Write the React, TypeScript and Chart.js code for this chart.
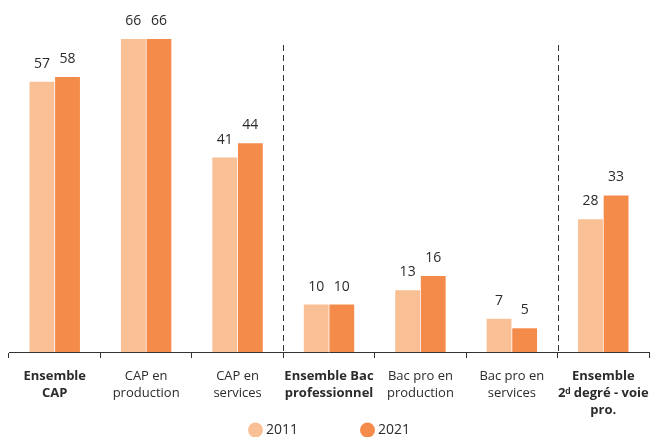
import React, { useEffect, useRef } from "react";
import { Chart, registerables } from "chart.js";

Chart.register(...registerables);

const categories: (string | string[])[] = [
  ["Ensemble", "CAP"],
  ["CAP en", "production"],
  ["CAP en", "services"],
  ["Ensemble Bac", "professionnel"],
  ["Bac pro en", "production"],
  ["Bac pro en", "services"],
  ["Ensemble", "2ᵈ degré - voie", "pro."],
];
const boldIndexes = [0, 3, 6];
const values2011 = [57, 66, 41, 10, 13, 7, 28];
const values2021 = [58, 66, 44, 10, 16, 5, 33];
const seriesNames = ["2011", "2021"];
const separatorsAfter = [2, 5];

const COLOR_2011 = "#F9BF95";
const COLOR_2021 = "#F58B4B";
const TEXT = "#2b2b2b";
const FONT = "'Open Sans', sans-serif";

const labelsPlugin = {
  id: "valueLabels",
  afterDatasetsDraw(chart: any) {
    const ctx = chart.ctx;
    ctx.save();
    ctx.font = `14px ${FONT}`;
    ctx.fillStyle = TEXT;
    ctx.textAlign = "center";
    ctx.textBaseline = "bottom";
    chart.data.datasets.forEach((ds: any, di: number) => {
      const meta = chart.getDatasetMeta(di);
      meta.data.forEach((bar: any, i: number) => {
        ctx.fillText(String(ds.data[i]), bar.x, bar.y - 11);
      });
    });
    ctx.restore();
  },
};

const separatorPlugin = {
  id: "separators",
  afterDraw(chart: any) {
    const ctx = chart.ctx;
    const xs = chart.scales.x;
    const area = chart.chartArea;
    ctx.save();
    ctx.strokeStyle = "#333";
    ctx.lineWidth = 1;
    ctx.setLineDash([6, 4]);
    separatorsAfter.forEach((i) => {
      const x = Math.round((xs.getPixelForValue(i) + xs.getPixelForValue(i + 1)) / 2) + 0.5;
      ctx.beginPath();
      ctx.moveTo(x, area.top + 25);
      ctx.lineTo(x, area.bottom);
      ctx.stroke();
    });
    ctx.restore();
  },
};

const legendPlugin = {
  id: "customLegend",
  afterDraw(chart: any) {
    const ctx = chart.ctx;
    ctx.save();
    ctx.font = `14px ${FONT}`;
    ctx.textBaseline = "middle";
    ctx.textAlign = "left";
    const colors = [COLOR_2011, COLOR_2021];
    const r = 7.5;
    const gap = 3;
    const itemGap = 62;
    const widths = seriesNames.map((n) => 2 * r + gap + ctx.measureText(n).width);
    const total = widths.reduce((a, b) => a + b, 0) + itemGap * (widths.length - 1);
    let x = chart.width / 2 + 3 - total / 2;
    const y = 430;
    seriesNames.forEach((n, i) => {
      ctx.fillStyle = colors[i];
      ctx.beginPath();
      ctx.arc(x + r, y, r, 0, Math.PI * 2);
      ctx.fill();
      ctx.fillStyle = TEXT;
      ctx.fillText(n, x + 2 * r + gap, y);
      x += widths[i] + itemGap;
    });
    ctx.restore();
  },
};

export default function App() {
  const ref = useRef<HTMLCanvasElement>(null);
  useEffect(() => {
    if (!ref.current) return;
    const chart = new Chart(ref.current, {
      type: "bar",
      data: {
        labels: categories,
        datasets: [
          {
            label: seriesNames[0],
            data: values2011,
            backgroundColor: COLOR_2011,
            categoryPercentage: 0.56,
            barPercentage: 0.97,
          },
          {
            label: seriesNames[1],
            data: values2021,
            backgroundColor: COLOR_2021,
            categoryPercentage: 0.56,
            barPercentage: 0.97,
          },
        ],
      },
      options: {
        animation: false,
        responsive: false,
        maintainAspectRatio: false,
        layout: { autoPadding: false, padding: { top: 20, left: 9, right: 3, bottom: 10 } },
        plugins: {
          legend: { display: false },
          tooltip: { enabled: false },
        },
        scales: {
          y: { display: false, min: 0, max: 70 },
          x: {
            afterFit: (s: any) => {
              s.paddingLeft = 0;
              s.paddingRight = 0;
              s.paddingTop = 0;
              s.paddingBottom = 0;
              s.height = 75;
            },
            border: { display: true, color: "#333", width: 1 },
            grid: {
              offset: true,
              drawOnChartArea: false,
              drawTicks: true,
              tickLength: 6,
              color: "#333",
            },
            ticks: {
              color: TEXT,
              padding: 10,
              maxRotation: 0,
              autoSkip: false,
              font: (c: any) => ({
                family: FONT,
                size: 13,
                lineHeight: 1.3,
                weight: boldIndexes.includes(c.index) ? "bold" : "normal",
              }),
            },
          },
        },
      },
      plugins: [labelsPlugin, separatorPlugin, legendPlugin],
    });
    return () => chart.destroy();
  }, []);
  return (
    <div style={{ position: "fixed", left: 0, top: 0, width: 652, height: 437, background: "#fff" }}>
      <canvas ref={ref} width={652} height={437} />
    </div>
  );
}
